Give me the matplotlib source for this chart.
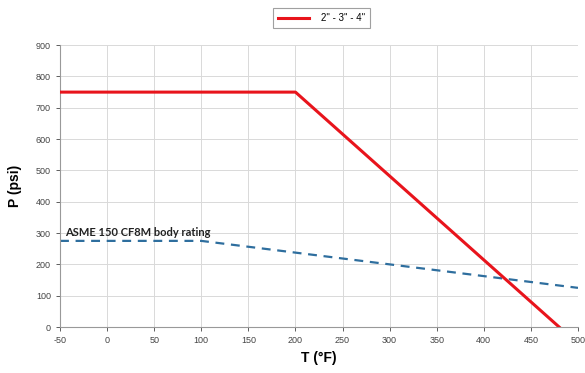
import matplotlib.pyplot as plt

# data
valve_T = [-50, 200, 480]
valve_P = [750, 750, 0]
asme_T = [-50, 100, 500]
asme_P = [275, 275, 125]
x_ticks = list(range(-50, 501, 50))
y_ticks = list(range(0, 901, 100))

plt.rcParams['font.family'] = ['Liberation Sans', 'DejaVu Sans']
plt.rcParams['axes.unicode_minus'] = False

fig = plt.figure(figsize=(5.85, 3.73), dpi=100)
ax = fig.add_axes([0.1026, 0.1233, 0.8854, 0.7557])

ax.plot(valve_T, valve_P, color='#e8141c', lw=2.2, label='2" - 3" - 4"', zorder=3)
ax.plot(asme_T, asme_P, color='#2e6e9e', lw=1.6, ls=(0, (4, 3)), zorder=2)

ax.text(-45, 292, 'ASME 150 CF8M body rating', fontsize=8, fontweight='bold',
        family=['Lato', 'DejaVu Sans'], color='#222222')

ax.set_xlim(-50, 500)
ax.set_ylim(0, 900)
ax.set_xticks(x_ticks)
ax.set_yticks(y_ticks)
ax.tick_params(labelsize=6.5, colors='#444444', length=3, width=0.6)
ax.grid(True, color='#d9d9d9', lw=0.7)
for s in ['top', 'right']:
    ax.spines[s].set_visible(False)
for s in ['left', 'bottom']:
    ax.spines[s].set_color('#999999')
    ax.spines[s].set_linewidth(0.8)

ax.set_xlabel('T (°F)', fontsize=10, fontweight='bold', labelpad=4)
ax.set_ylabel('P (psi)', fontsize=10, fontweight='bold', labelpad=10)

leg = fig.legend(loc='center', bbox_to_anchor=(0.55, 0.952), fontsize=7, frameon=True,
                 fancybox=False, edgecolor='#888888', handlelength=3.2,
                 borderpad=0.5, handletextpad=1.2, borderaxespad=0)
leg.get_frame().set_linewidth(0.8)

fig.savefig('out.png', dpi=100)
